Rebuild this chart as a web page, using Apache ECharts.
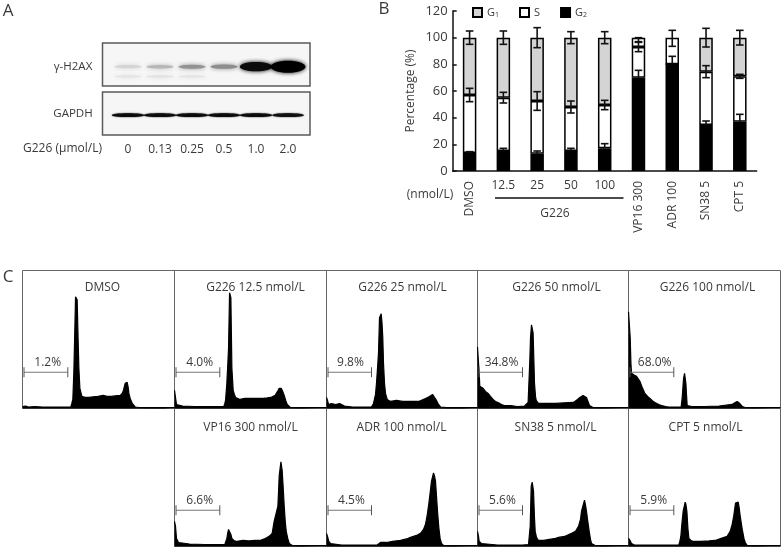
<!DOCTYPE html>
<html><head><meta charset="utf-8">
<style>html,body{margin:0;padding:0;background:#fff}#c{width:784px;height:550px}</style>
<script src="https://cdn.jsdelivr.net/npm/echarts@6/dist/echarts.min.js"></script>
</head><body><div id="c"></div>
<script>
// Panel A
const lanes = ['0','0.13','0.25','0.5','1.0','2.0'];
const h2axBand = [0.1,0.22,0.38,0.4,0.95,1.0];
const h2axFaint = [0.03,0.04,0.03,0.0,0.0,0.0];
const gapdhBand = [0.95,0.95,0.95,0.95,0.95,0.93];
// Panel B
const conditions = ['DMSO','12.5','25','50','100','VP16 300','ADR 100','SN38 5','CPT 5'];
const rotatedLabels = ['DMSO','','','','','VP16 300','ADR 100','SN38 5','CPT 5'];
const flatLabels = ['','12.5','25','50','100','','','',''];
const g2Values = [13.5,15,13,15,17,70,80,34.5,37];
const sValues = [43.5,40,39.5,33,32.5,23,0,40,34];
const g1Values = [43,45,47.5,52,50.5,7,20,25.5,29];
const g1Shaded = [1,1,1,1,1,0,0,1,1];
const g2Err = [1,2,2,2,3.5,5.5,6,3,5.5];
const sErr = [5,4,7,4.5,3.5,3.5,0,4.5,1.5];
const g1Err = [5,5,7.5,4.5,4.5,1.5,6,7,5.5];
const g1ErrLevel = [100,100,100,100,100,98.5,99.5,100,100];
// Panel C: [DNA content channel, count]
const histDMSO = [[0,2],[3,2.5],[6,1.5],[12,2],[20,1.5],[30,1.5],[40,1.5],[48,1.5],[49,5],[50,9],[51,36],[51.8,70],[52.7,111],[54.3,108],[55.2,70],[56,40],[57,20],[58,16],[59,12],[62,11],[66,11],[70,11.5],[75,12],[80,13],[84,12],[88,12],[92,12.5],[97,13],[99,15],[100,17],[101,21],[102,25],[104,26],[105,21],[105.7,15],[107,10],[109,5],[112,1.5],[116,1],[125,.8],[140,.8],[151,.8]];
const hist125 = [[0,18],[1,17],[2,4],[3,2.5],[8,2.5],[20,2],[35,2],[49,2],[50,5],[50.7,8],[52,25],[53,45],[53.7,60],[54.7,115],[56,110],[57,40],[58.3,18],[59.5,14],[60.7,11],[65,9],[70,10],[76,10],[82,10],[88,10],[92,10.5],[95.7,11],[100,13],[103,18],[104,20],[106,20],[107.5,17],[109,13],[110.5,8],[112,4],[115,1],[125,.8],[151,.8]];
const hist25 = [[0,11],[1,8],[2,4],[5,5],[9,4],[13,5],[15,4],[18,2.5],[22,2],[26,1.5],[35,1.5],[45,1.5],[47,5],[49,14],[50,25],[51,40],[52,55],[53,90],[54.7,94],[55.5,85],[56.3,70],[57,45],[58,25],[59,15],[60.7,9],[64,7],[70,8],[76,7],[84,7],[92,7],[99,10],[103,12],[106,14],[108,13],[110,8],[112,4],[114,1.5],[120,.8],[135,.8],[151,.8]];
const hist50 = [[0,61],[1,61],[1.7,35],[2.3,22],[4,21],[5.6,20],[8,17],[10.6,15],[13,12],[15.6,9],[18,7],[20.6,6],[24,4],[27,3],[33,3],[40,2],[47,2.5],[49,3],[50.6,6],[51.6,30],[52.4,50],[53,70],[54,83],[55.6,75],[56.3,50],[57,25],[58,12],[58.7,8],[61,5],[64,5],[70,5],[78,5],[86,5.5],[96,6],[100,9],[102.3,11],[105.6,13],[109,11],[110.5,7],[112,3],[115.6,1],[125,.8],[151,.8]];
const hist100 = [[0,96],[1,96],[1.7,70],[2.4,45],[3,35],[6,33],[8,32],[10,29],[11.3,27],[14,20],[16.3,15],[19,12],[21.3,10],[24,7.5],[26.3,6],[30,4],[33,3],[37,2],[40,1.5],[46,1.5],[52.3,1.5],[53.3,10],[54,20],[54.7,30],[55.7,35],[57,25],[57.7,12],[58.3,3],[60,2.5],[63,2],[75,2],[90,2.5],[103,4],[106,6],[108,7],[110,5.5],[111,4],[113,2],[116,1],[125,.8],[151,.8]];
const histVP16 = [[0,25],[1,20],[2,8],[4,4],[5,3],[15,2.5],[30,2],[42,2],[50,2],[52,8],[53,14],[53.7,17],[55,17],[56,12],[57,8],[59,6],[62,5],[68,6],[74,5.5],[80,6],[85,6],[90,8],[92,9],[95,11],[97,13],[99,25],[101,33],[102.7,40],[103.4,55],[104,70],[105.7,84],[107,75],[108,58],[109,40],[110,25],[111,15],[112.5,8],[114,3],[117,1],[125,.8],[151,.8]];
const histADR = [[0,13],[1,10],[2.3,5],[4,3],[5.6,2],[15,1.5],[30,1.5],[40,1.5],[50.6,1.5],[52,3],[54,4],[60,4],[66,5],[74,6],[80,7.5],[84,9],[90,11],[94,13],[97,17],[99,22],[100.5,30],[102,40],[103.5,52],[105,65],[107,73],[108,70],[109,65],[110,50],[111,35],[112.4,18],[113.6,8],[115,3],[117,1],[125,.8],[151,.8]];
const histSN38 = [[0,15],[1,10],[1.7,5],[4,3],[6,2],[20,1.5],[35,1.5],[45,1.5],[51,2],[52.7,20],[53.2,40],[53.7,60],[54.7,64],[56,55],[57,28],[57.7,15],[59,9],[61,6],[66,6],[72,7],[78,8],[81,9],[87,10],[94,13],[98,15],[101,20],[103,27],[104,35],[107,46],[108,41],[109,35],[110,27],[111.7,15],[113,7],[114,3],[117.7,1],[125,.8],[151,.8]];
const histCPT = [[0,8],[1.5,6],[3,3],[6,1.5],[15,1.5],[30,1.5],[40,1.5],[50,1.5],[51,5],[52,10],[53,22],[54.3,35],[56.3,44],[57,42],[58,35],[59,18],[60,8],[62,6],[64.7,5],[72,5],[80,5.5],[86,6],[92,8],[98,10],[101,15],[103,22],[104.5,30],[106.3,43],[109,44],[110,38],[111,30],[113,17],[114.7,8],[116,4],[118,1],[125,.8],[151,.8]];
const gateLevel = 36;
const gateStart = 1.5, gateEnd = 45;
const panels = [
 {title:'DMSO',pct:'1.2%',data:histDMSO,col:0,row:0,tx:80,lx:25},
 {title:'G226 12.5 nmol/L',pct:'4.0%',data:hist125,col:1,row:0,tx:81,lx:25},
 {title:'G226 25 nmol/L',pct:'9.8%',data:hist25,col:2,row:0,tx:76,lx:24},
 {title:'G226 50 nmol/L',pct:'34.8%',data:hist50,col:3,row:0,tx:79,lx:24},
 {title:'G226 100 nmol/L',pct:'68.0%',data:hist100,col:4,row:0,tx:79,lx:26},
 {title:'VP16 300 nmol/L',pct:'6.6%',data:histVP16,col:1,row:1,tx:76,lx:25},
 {title:'ADR 100 nmol/L',pct:'4.5%',data:histADR,col:2,row:1,tx:75,lx:25},
 {title:'SN38 5 nmol/L',pct:'5.6%',data:histSN38,col:3,row:1,tx:78,lx:25},
 {title:'CPT 5 nmol/L',pct:'5.9%',data:histCPT,col:4,row:1,tx:77,lx:25}
];
const colX = [22.5,174.5,326.5,477.5,628.5,780.5];
const rowY = [270.5,408.5,546.5];
const FONT = '"Open Sans", sans-serif';
const INK = '#3a3a3a';
const txt = (text,x,y,size,align,extra) => ({type:'text',x,y,silent:true,style:Object.assign({text,fill:INK,font:size+'px '+FONT,textAlign:align||'center',textVerticalAlign:'middle'},extra||{})});

const grid=[
 {left:112,width:192,top:43,height:43},
 {left:112,width:192,top:92,height:43},
 {left:452.7,width:304,top:11,height:160}
];
const xAxis=[
 {gridIndex:0,type:'category',data:lanes,show:false},
 {gridIndex:1,type:'category',data:lanes,axisLine:{show:false},axisTick:{show:false},axisLabel:{interval:0,margin:9,fontFamily:FONT,fontSize:12,color:INK}},
 {gridIndex:2,type:'category',data:rotatedLabels,axisLine:{lineStyle:{color:'#111',width:1.5}},axisTick:{inside:true,length:4,interval:0,lineStyle:{color:'#111',width:1.5}},axisLabel:{interval:0,rotate:90,margin:10,fontFamily:FONT,fontSize:12,color:INK}},
 {gridIndex:2,type:'category',data:flatLabels,position:'bottom',axisLine:{show:false},axisTick:{show:false},axisLabel:{interval:0,margin:9,fontFamily:FONT,fontSize:12,color:INK}}
];
const yAxis=[
 {gridIndex:0,type:'value',min:0,max:1,show:false},
 {gridIndex:1,type:'value',min:0,max:1,show:false},
 {gridIndex:2,type:'value',min:0,max:120,interval:20,name:'Percentage (%)',nameLocation:'middle',nameGap:36,nameTextStyle:{fontFamily:FONT,fontSize:12,color:INK},
  axisLine:{show:true,lineStyle:{color:'#111',width:1.5}},axisTick:{show:true,inside:true,length:4,lineStyle:{color:'#111',width:1.5}},splitLine:{show:false},
  axisLabel:{margin:5,fontFamily:FONT,fontSize:13,color:INK}}
];

function bandSeries(xi,yi,vals,level,mode){
 return {type:'custom',xAxisIndex:xi,yAxisIndex:yi,z:3,silent:true,
  data:vals.map((v,i)=>[i,level,v]),encode:{x:0,y:1},
  renderItem(params,api){
   const p=api.coord([api.value(0),api.value(1)]), v=api.value(2);
   if(!v) return;
   const g=Math.round(235*(1-v));
   const col='rgb('+g+','+g+','+g+')';
   const rx=13.5+4*Math.pow(v,8);
   const ry=mode==='thin'?1.9:mode==='faint'?1.2:(1.4+1.6*v+3*Math.pow(v,12));
   return {type:'ellipse',shape:{cx:p[0],cy:p[1],rx:rx,ry:ry},style:{fill:col,shadowBlur:mode==='thin'?1.5:4,shadowColor:col}};
  }};
}
function errSeries(levels,errs,onlyUp){
 return {type:'custom',xAxisIndex:2,yAxisIndex:2,z:5,silent:true,
  data:levels.map((l,i)=>[i,l,errs[i]]),encode:{x:0,y:1},
  renderItem(params,api){
   const i=api.value(0),l=api.value(1),e=api.value(2);
   if(!e) return;
   const c=api.coord([i,l]),hi=api.coord([i,l+e]),lo=api.coord([i,onlyUp?l:l-e]);
   const s={stroke:'#111',lineWidth:1.6};
   const kids=[
    {type:'line',shape:{x1:c[0],y1:hi[1],x2:c[0],y2:lo[1]},style:s},
    {type:'line',shape:{x1:c[0]-3.8,y1:hi[1],x2:c[0]+3.8,y2:hi[1]},style:s}];
   if(!onlyUp) kids.push({type:'line',shape:{x1:c[0]-3.8,y1:lo[1],x2:c[0]+3.8,y2:lo[1]},style:s});
   return {type:'group',children:kids};
  }};
}
const g1Data=g1Values.map((v,i)=>({value:v,itemStyle:{color:g1Shaded[i]?'#d4d4d4':'#fff'}}));
const barBase={type:'bar',xAxisIndex:2,yAxisIndex:2,stack:'phase',barWidth:13.5,silent:true,z:2};
const series=[
 bandSeries(0,0,h2axFaint,0.22,'faint'),
 bandSeries(0,0,h2axBand,0.45,'fat'),
 bandSeries(1,1,gapdhBand,0.46,'thin'),
 Object.assign({},barBase,{name:'G2',data:g2Values,itemStyle:{color:'#000',borderColor:'#000',borderWidth:1.5}}),
 Object.assign({},barBase,{name:'S',data:sValues,itemStyle:{color:'#fff',borderColor:'#000',borderWidth:1.5}}),
 Object.assign({},barBase,{name:'G1',data:g1Data,itemStyle:{color:'#d4d4d4',borderColor:'#000',borderWidth:1.5}}),
 errSeries(g1ErrLevel,g1Err,false),
 errSeries(g2Values.map((v,i)=>v+sValues[i]),sErr,false),
 errSeries(g2Values,g2Err,true)
];

panels.forEach(p=>{
 const gi=grid.length;
 grid.push({left:colX[p.col],width:colX[p.col+1]-colX[p.col],top:rowY[p.row],height:rowY[p.row+1]-rowY[p.row],show:true,borderColor:'#666',borderWidth:1,backgroundColor:'transparent'});
 xAxis.push({gridIndex:gi,type:'value',min:0,max:151,show:false});
 yAxis.push({gridIndex:gi,type:'value',min:0,max:137,show:false});
 const xi=xAxis.length-1, yi=yAxis.length-1;
 series.push({type:'line',xAxisIndex:xi,yAxisIndex:yi,data:p.data,showSymbol:false,silent:true,z:3,lineStyle:{color:'#000',width:1.2},areaStyle:{color:'#000',opacity:1}});
 series.push({type:'custom',xAxisIndex:xi,yAxisIndex:yi,z:4,silent:true,data:[[gateStart,gateEnd,gateLevel,p.lx]],encode:{x:[0,1],y:2},
  renderItem(params,api){
   const a=api.coord([api.value(0),api.value(2)]),b=api.coord([api.value(1),api.value(2)]),t=api.coord([api.value(3),api.value(2)]);
   const s={stroke:'#555',lineWidth:1};
   return {type:'group',children:[
    {type:'line',shape:{x1:a[0],y1:a[1],x2:b[0],y2:b[1]},style:{stroke:'#777',lineWidth:1}},
    {type:'line',shape:{x1:a[0],y1:a[1]-5,x2:a[0],y2:a[1]+5},style:s},
    {type:'line',shape:{x1:b[0],y1:b[1]-5,x2:b[0],y2:b[1]+5},style:s},
    {type:'text',style:{text:p.pct,x:t[0],y:a[1]-10,fill:INK,font:'12px '+FONT,textAlign:'center',textVerticalAlign:'middle'}}
   ]};
  }});
});

const graphic=[
 {type:'rect',shape:{x:102.5,y:43,width:207.5,height:43},silent:true,style:{fill:'#f6f6f6',stroke:'#5a5a5a',lineWidth:1.5}},
 {type:'rect',shape:{x:102.5,y:92,width:207.5,height:43},silent:true,style:{fill:'#f6f6f6',stroke:'#5a5a5a',lineWidth:1.5}},
 txt('A',8,11,17),txt('B',384,9,17),txt('C',8,277,17),
 txt('γ-H2AX',73,67,11.5),txt('GAPDH',73,114,11.5),
 txt('G226 (μmol/L)',62.5,149,12),
 txt('(nmol/L)',430,195,12),
 txt('G226',555,214,12),
 {type:'line',shape:{x1:495,y1:198,x2:623.5,y2:198},silent:true,style:{stroke:'#111',lineWidth:1.4}}
];
panels.forEach(p=>graphic.push(txt(p.title,colX[p.col]+p.tx,p.row?428:288,12)));

const chart=echarts.init(document.getElementById('c'),null,{renderer:'canvas'});
chart.setOption({
 animation:false,backgroundColor:'#fff',grid,xAxis,yAxis,series,graphic,
 legend:{data:['G1','S','G2'],left:472,top:7,padding:0,icon:'rect',itemWidth:9,itemHeight:9,itemGap:20,selectedMode:false,
  formatter:n=>n==='S'?'S':'{b|G}{s|'+n[1]+'}',
  textStyle:{fontFamily:FONT,fontSize:11,color:INK,rich:{b:{fontFamily:FONT,fontSize:11,color:INK},s:{fontFamily:FONT,fontSize:7,color:INK,verticalAlign:'bottom',padding:[4,0,0,0]}}}}
});
</script></body></html>
